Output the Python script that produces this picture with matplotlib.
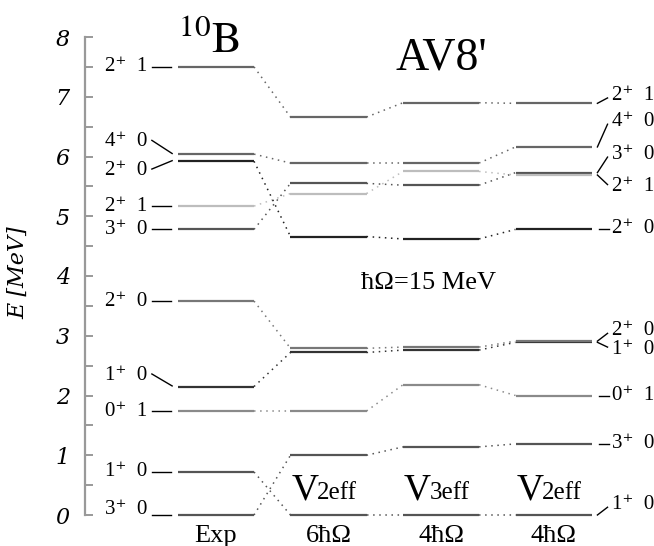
import numpy as np
import matplotlib.pyplot as plt

plt.rcParams['mathtext.fontset'] = 'stix'
SERIF = ['Liberation Serif', 'DejaVu Serif']

# level energies (MeV), one entry per state, same order in every column
states = ["3+0", "1+0", "0+1", "1+0b", "2+0", "3+0b", "2+1", "2+0b", "4+0", "2+1b"]
exp_E = [0.00, 0.72, 1.74, 2.15, 3.58, 4.78, 5.17, 5.92, 6.04, 7.50]
v2_6hw = [1.00, 0.00, 1.74, 2.72, 2.79, 5.55, 5.38, 4.66, 5.89, 6.66]
v3_4hw = [1.14, 0.00, 2.18, 2.76, 2.81, 5.52, 5.75, 4.62, 5.89, 6.90]
v2_4hw = [1.19, 0.00, 2.00, 2.89, 2.91, 5.73, 5.69, 4.78, 6.16, 6.89]
columns = [exp_E, v2_6hw, v3_4hw, v2_4hw]
col_labels = ["Exp", "6ħΩ", "4ħΩ", "4ħΩ"]
interactions = [None, "2eff", "3eff", "2eff"]
shades = ['#555555', '#555555', '#8a8a8a', '#333333', '#777777',
          '#555555', '#bdbdbd', '#222222', '#666666', '#666666']

# left labels (experiment) and right labels (last column)
left_text = ["3⁺  0", "1⁺  0", "0⁺  1", "1⁺  0", "2⁺  0", "3⁺  0", "2⁺  1", "2⁺  0", "4⁺  0", "2⁺  1"]
left_y = [0.10, 0.72, 1.74, 2.34, 3.58, 4.78, 5.17, 5.77, 6.25, 7.50]
right_text = ["3⁺  0", "1⁺  0", "0⁺  1", "1⁺  0", "2⁺  0", "3⁺  0", "2⁺  1", "2⁺  0", "4⁺  0", "2⁺  1"]
right_y = [1.19, 0.17, 2.00, 2.77, 3.08, 6.03, 5.49, 4.79, 6.58, 7.02]

fig = plt.figure(figsize=(6.54, 5.46), dpi=100)
ax = fig.add_axes([85 / 654, 31 / 546, 1 - 85 / 654, 478 / 546])
ax.set_xlim(-1.1644, 3.893)
ax.set_ylim(0, 8)
for s in ['top', 'right', 'bottom']:
    ax.spines[s].set_visible(False)
ax.spines['left'].set_color('#999999')
ax.spines['left'].set_linewidth(1.6)
ax.set_xticks([])
ax.set_yticks(np.arange(0, 9, 1))
ax.set_yticks(np.arange(0.5, 8, 1), minor=True)
ax.tick_params(axis='y', which='both', direction='in', length=6, width=1.4,
               color='#999999', pad=11)
for lab in ax.get_yticklabels():
    lab.set_fontfamily('DejaVu Serif')
    lab.set_fontstyle('italic')
    lab.set_fontsize(16)

fig.text(18 / 654, 1 - 273 / 546, "E [MeV]", rotation=90, ha='center', va='center',
         fontsize=16, fontstyle='italic', family='DejaVu Serif')

hw = 0.338
xc = np.arange(len(columns))
dot = (0, (1, 3))

for i, E in enumerate(columns):
    for k, e in enumerate(E):
        ax.plot([xc[i] - hw, xc[i] + hw], [e, e], color=shades[k], lw=1.6,
                solid_capstyle='butt', clip_on=False)
    if i + 1 < len(columns):
        for k, (a, b) in enumerate(zip(E, columns[i + 1])):
            ax.plot([xc[i] + hw, xc[i + 1] - hw], [a, b], color=shades[k], lw=1.1,
                    ls=dot, clip_on=False)

# left labels with connectors
for k, (t, ty) in enumerate(zip(left_text, left_y)):
    e = exp_E[k]
    ax.text(-0.61, ty, t, ha='right', va='center', fontsize=15, family=SERIF)
    if abs(ty - e) < 0.02 or k == 0:
        ax.plot([-0.57, -0.40], [e, e], color='k', lw=1.0, clip_on=False)
    else:
        ax.plot([-0.57, -0.39], [ty + 0.02, e + 0.01], color='k', lw=1.0)

# right labels with connectors
for k, (t, ty) in enumerate(zip(right_text, right_y)):
    e = v2_4hw[k]
    ax.text(3.52, ty, t, ha='left', va='center', fontsize=15, family=SERIF)
    if abs(ty - e) < 0.02:
        ax.plot([3.40, 3.49], [e, e], color='k', lw=1.0)
    else:
        ax.plot([3.39, 3.48], [e, ty - 0.04 * np.sign(ty - e)], color='k', lw=1.0,
                clip_on=False)

# column labels
for i, lab in enumerate(col_labels):
    ax.text(xc[i], -0.35, lab, ha='center', va='center', fontsize=19, family=SERIF,
            clip_on=False)
    if interactions[i]:
        ax.text(xc[i] - 0.09, 0.26, "V", ha='right', va='baseline', fontsize=27,
                family=SERIF)
        ax.text(xc[i] - 0.10, 0.26, interactions[i], ha='left', va='baseline',
                fontsize=18, family=SERIF)

ax.text(-0.06, 7.95, r"$^{10}\mathrm{B}$", ha='center', va='center', fontsize=32,
        clip_on=False)
ax.text(2.0, 7.65, "AV8'", ha='center', va='center', fontsize=33, family=SERIF)
ax.text(1.89, 3.88, "ħΩ=15 MeV", ha='center', va='center', fontsize=19, family=SERIF)

fig.savefig("out.png", dpi=100)
